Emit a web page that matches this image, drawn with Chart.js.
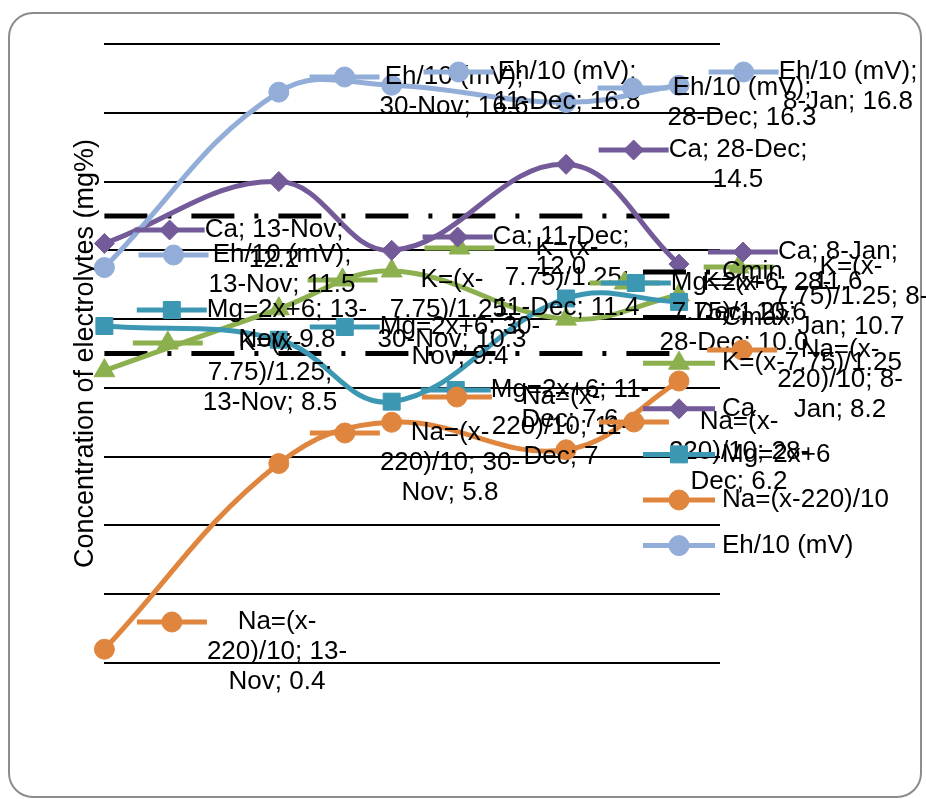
<!DOCTYPE html>
<html>
<head>
<meta charset="utf-8">
<title>Concentration of electrolytes</title>
<script src="https://cdn.jsdelivr.net/npm/chart.js@4.4.1/dist/chart.umd.min.js"></script>
<style>
  html, body { margin: 0; padding: 0; background: #ffffff; }
  #wrap { width: 926px; height: 799px; position: relative; }
  canvas { display: block; }
</style>
</head>
<body>
<div id="wrap"><canvas id="chart" width="926" height="799"></canvas></div>
<script>
// Sampling dates and their day offsets from the first sample
const dates = ['13-Nov', '30-Nov', '11-Dec', '28-Dec', '8-Jan'];
const dayOffsets = [0, 17, 28, 45, 56];

// Measured series (scaled so they share one axis)
const kValues  = [8.5, 10.3, 11.4, 10.0, 10.7];
const caValues = [12.2, 14.0, 12.0, 14.5, 11.6];
const mgValues = [9.8, 9.4, 7.6, 10.6, 10.5];
const naValues = [0.4, 5.8, 7.0, 6.2, 8.2];
const ehValues = [11.5, 16.6, 16.8, 16.3, 16.8];

// Reference limits
const cMinValues = [9, 9, 9, 9, 9];
const cMaxValues = [13, 13, 13, 13, 13];

// Axis range
const yMin = 0, yMax = 18, yStep = 2;
const xMin = 0, xMax = 60;

const FONT = '"Liberation Sans", Arial, Helvetica, sans-serif';
const FONT_SIZE = 26;

function pts(values) {
  return values.map((v, i) => ({ x: dayOffsets[i], y: v }));
}

// Series styling and value formats
const seriesDefs = [
  { key: 'cmin', label: 'Cmin', values: cMinValues, color: '#000000', dash: [43, 20, 4, 20], style: false },
  { key: 'cmax', label: 'Cmax', values: cMaxValues, color: '#000000', dash: [43, 20, 4, 20], style: false },
  { key: 'k',  label: 'K=(x-7.75)/1.25', values: kValues,  color: '#8DB04F', style: 'triangle', radius: 12, decimals: 1 },
  { key: 'ca', label: 'Ca',              values: caValues, color: '#735A99', style: 'rectRot',  radius: 10, decimals: 1 },
  { key: 'mg', label: 'Mg=2x+6',         values: mgValues, color: '#3C97B3', style: 'rect',     radius: 12 },
  { key: 'na', label: 'Na=(x-220)/10',   values: naValues, color: '#E0853D', style: 'circle',   radius: 10 },
  { key: 'eh', label: 'Eh/10 (mV)',      values: ehValues, color: '#91ADD8', style: 'circle',   radius: 10 }
];

// Where each point's label sits: [series, point index, block centre x, first line centre y]
const labelSpots = [
  ['k', 0, 270, 343], ['k', 1, 452, 280], ['k', 2, 567, 248], ['k', 3, 734, 283], ['k', 4, 851, 267],
  ['ca', 0, 274, 230], ['ca', 2, 561, 237], ['ca', 3, 738, 150], ['ca', 4, 838, 252],
  ['mg', 0, 287, 310], ['mg', 1, 460, 327], ['mg', 2, 570, 390], ['mg', 3, 751, 283],
  ['na', 0, 277, 622], ['na', 1, 450, 433], ['na', 2, 561, 397], ['na', 3, 739, 422], ['na', 4, 840, 350],
  ['eh', 0, 282, 255], ['eh', 1, 454, 77], ['eh', 2, 567, 72], ['eh', 3, 742, 88], ['eh', 4, 848, 72]
];
const LABEL_WRAP = 164;
const LABEL_LINE = 30;
const KEY_LEN = 70;

// Legend placement
const legendKeyLeft = 643, legendTextLeft = 722, legendTop = 272, legendStep = 45.6;

function drawMarker(ctx, style, radius, x, y, color) {
  if (!style) return;
  ctx.save();
  ctx.fillStyle = color;
  ctx.strokeStyle = color;
  ctx.lineWidth = 1;
  ctx.setLineDash([]);
  ctx.beginPath();
  if (style === 'circle') {
    ctx.arc(x, y, radius, 0, Math.PI * 2);
  } else if (style === 'rect') {
    const s = radius * Math.SQRT1_2;
    ctx.rect(x - s, y - s, 2 * s, 2 * s);
  } else if (style === 'rectRot') {
    ctx.moveTo(x, y - radius);
    ctx.lineTo(x + radius, y);
    ctx.lineTo(x, y + radius);
    ctx.lineTo(x - radius, y);
    ctx.closePath();
  } else if (style === 'triangle') {
    let a = 0;
    ctx.moveTo(x + Math.sin(a) * radius, y - Math.cos(a) * radius);
    a += 2 * Math.PI / 3;
    ctx.lineTo(x + Math.sin(a) * radius, y - Math.cos(a) * radius);
    a += 2 * Math.PI / 3;
    ctx.lineTo(x + Math.sin(a) * radius, y - Math.cos(a) * radius);
    ctx.closePath();
  }
  ctx.fill();
  ctx.stroke();
  ctx.restore();
}

function drawKey(ctx, def, x0, x1, y) {
  ctx.save();
  ctx.strokeStyle = def.color;
  ctx.lineWidth = 5;
  ctx.lineCap = 'butt';
  ctx.setLineDash(def.dash || []);
  ctx.beginPath();
  ctx.moveTo(x0, y);
  ctx.lineTo(x1, y);
  ctx.stroke();
  ctx.restore();
  drawMarker(ctx, def.style, def.radius, (x0 + x1) / 2, y, def.color);
}

function formatValue(def, v) {
  return def.decimals != null ? v.toFixed(def.decimals) : String(v);
}

// Break after spaces and hyphens, then fill lines greedily
function wrapText(ctx, text, maxWidth) {
  const tokens = text.match(/[^\s-]*(-|\s+|$)/g).filter(t => t.length);
  const lines = [];
  let cur = '';
  tokens.forEach(tok => {
    const trial = cur + tok;
    if (cur && ctx.measureText(trial.trimEnd()).width > maxWidth) {
      lines.push(cur.trimEnd());
      cur = tok;
    } else {
      cur = trial;
    }
  });
  if (cur.trim()) lines.push(cur.trimEnd());
  return lines;
}

const framePlugin = {
  id: 'frame',
  beforeDraw(chart) {
    const ctx = chart.ctx;
    ctx.save();
    ctx.fillStyle = '#ffffff';
    ctx.fillRect(0, 0, chart.width, chart.height);
    ctx.strokeStyle = '#8c8c8c';
    ctx.lineWidth = 2;
    ctx.beginPath();
    ctx.roundRect(9, 13, 912, 784, 24);
    ctx.stroke();
    ctx.restore();
  }
};

const annotationPlugin = {
  id: 'pointLabelsAndLegend',
  afterDraw(chart) {
    const ctx = chart.ctx;
    ctx.save();
    ctx.font = FONT_SIZE + 'px ' + FONT;
    ctx.fillStyle = '#000000';
    ctx.textBaseline = 'middle';

    // Point labels with their series key
    labelSpots.forEach(([key, i, cx, y1]) => {
      const def = seriesDefs.find(d => d.key === key);
      const text = def.label + '; ' + dates[i] + '; ' + formatValue(def, def.values[i]);
      const lines = wrapText(ctx, text, LABEL_WRAP);
      const widths = lines.map(l => ctx.measureText(l).width);
      const blockLeft = cx - Math.max(...widths) / 2;
      drawKey(ctx, def, blockLeft - KEY_LEN, blockLeft, y1);
      ctx.fillStyle = '#000000';
      ctx.textAlign = 'center';
      lines.forEach((l, n) => ctx.fillText(l, cx, y1 + n * LABEL_LINE));
    });

    // Legend
    seriesDefs.forEach((def, n) => {
      const y = legendTop + n * legendStep;
      drawKey(ctx, def, legendKeyLeft, legendKeyLeft + 72, y);
      ctx.fillStyle = '#000000';
      ctx.textAlign = 'left';
      ctx.fillText(def.label, legendTextLeft, y);
    });
    ctx.restore();
  }
};

const datasets = seriesDefs.map((def, n) => ({
  label: def.label,
  data: pts(def.values),
  borderColor: def.color,
  backgroundColor: def.color,
  borderWidth: 5,
  borderDash: def.dash || [],
  borderCapStyle: 'butt',
  tension: def.dash ? 0 : 0.4,
  pointStyle: def.style || 'circle',
  pointRadius: def.style ? def.radius : 0,
  pointBorderWidth: 1,
  pointBackgroundColor: def.color,
  pointBorderColor: def.color,
  clip: false,
  order: seriesDefs.length - n
}));

new Chart(document.getElementById('chart').getContext('2d'), {
  type: 'line',
  data: { datasets },
  options: {
    responsive: false,
    animation: false,
    events: [],
    layout: { padding: { left: 66, top: 44, right: 206, bottom: 136 } },
    plugins: {
      legend: { display: false },
      tooltip: { enabled: false },
      title: { display: false }
    },
    scales: {
      x: { type: 'linear', min: xMin, max: xMax, display: false },
      y: {
        min: yMin, max: yMax,
        ticks: { display: false, stepSize: yStep },
        grid: { color: '#000000', lineWidth: 2, drawTicks: false },
        border: { display: false },
        title: {
          display: true,
          text: 'Concentration of electrolytes (mg%)',
          color: '#000000',
          font: { family: FONT, size: 27 },
          padding: { top: 3, bottom: 3 }
        }
      }
    }
  },
  plugins: [framePlugin, annotationPlugin]
});
</script>
</body>
</html>
